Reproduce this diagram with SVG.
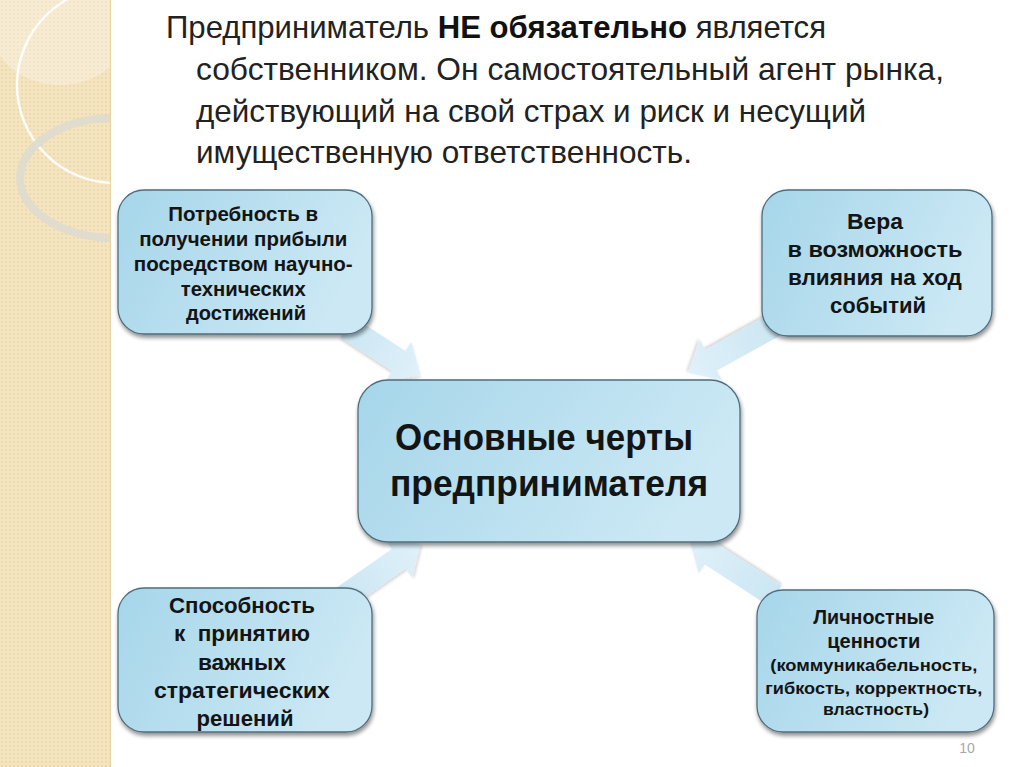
<svg xmlns="http://www.w3.org/2000/svg" width="1024" height="767" viewBox="0 0 1024 767">
<defs>
<pattern id="dots" width="4" height="4" patternUnits="userSpaceOnUse">
<rect width="4" height="4" fill="#f4e4c0"/>
<circle cx="2" cy="2" r="1" fill="#ead6a8"/>
</pattern>
<clipPath id="strip"><rect x="0" y="0" width="111" height="767"/></clipPath>
<linearGradient id="boxg" x1="0" y1="0" x2="1" y2="0.3">
<stop offset="0" stop-color="#a6d6ea"/>
<stop offset="1" stop-color="#cbe8f4"/>
</linearGradient>
<linearGradient id="arrg" x1="0" y1="0" x2="1" y2="0">
<stop offset="0" stop-color="#cbe6f3"/>
<stop offset="1" stop-color="#e0f1f9"/>
</linearGradient>
<filter id="sh" x="-10%" y="-10%" width="120%" height="125%">
<feGaussianBlur in="SourceAlpha" stdDeviation="2"/>
<feOffset dx="1" dy="3" result="b"/>
<feComponentTransfer><feFuncA type="linear" slope="0.45"/></feComponentTransfer>
<feMerge><feMergeNode/><feMergeNode in="SourceGraphic"/></feMerge>
</filter>
<filter id="ash" x="-20%" y="-20%" width="140%" height="140%">
<feGaussianBlur in="SourceAlpha" stdDeviation="1.5"/>
<feOffset dx="1" dy="2"/>
<feComponentTransfer><feFuncA type="linear" slope="0.18"/></feComponentTransfer>
<feMerge><feMergeNode/><feMergeNode in="SourceGraphic"/></feMerge>
</filter>
</defs>
<style>
.box{fill:url(#boxg);stroke:#4f6e7e;stroke-width:1.3;filter:url(#sh)}
.t{font-family:"Liberation Sans",Arial,sans-serif;font-weight:bold;fill:#141414;text-anchor:middle}
.title{font-family:"Liberation Sans Narrow","Liberation Sans",Arial,sans-serif;font-size:32px;fill:#222}
.arr{fill:url(#arrg);filter:url(#ash)}
</style>
<rect width="1024" height="767" fill="#ffffff"/>
<g id="sidebar" clip-path="url(#strip)">
<rect x="0" y="0" width="111" height="767" fill="url(#dots)"/>
<ellipse cx="60" cy="25" rx="70" ry="60" fill="#ffffff" opacity="0.3"/>
<circle cx="115" cy="85" r="98" fill="none" stroke="#ffffff" stroke-width="2.5" opacity="0.9"/>
<ellipse cx="115" cy="178" rx="95" ry="60" fill="none" stroke="#dedbcf" stroke-width="8" opacity="0.9"/>
<line x1="110.5" y1="0" x2="110.5" y2="767" stroke="#e6d3a8" stroke-width="1"/>
</g>
<g id="title">
<text class="title" x="166" y="38" textLength="660" lengthAdjust="spacingAndGlyphs">Предприниматель <tspan font-weight="bold" fill="#111">НЕ обязательно</tspan> является</text>
<text class="title" x="196" y="80" textLength="748" lengthAdjust="spacingAndGlyphs">собственником. Он самостоятельный агент рынка,</text>
<text class="title" x="196" y="122" textLength="670" lengthAdjust="spacingAndGlyphs">действующий на свой страх и риск и несущий</text>
<text class="title" x="196" y="163" textLength="496" lengthAdjust="spacingAndGlyphs">имущественную ответственность.</text>
</g>
<g id="connectors">
<polygon class="arr" transform="translate(362,337) rotate(33)" points="-18,-12 44,-12 44,-23 70,0 44,23 44,12 -18,12"/>
<polygon class="arr" transform="translate(760,333) rotate(151)" points="-18,-12 56,-12 56,-23 82,0 56,23 56,12 -18,12"/>
<polygon class="arr" transform="translate(357,588) rotate(-35)" points="-18,-12 51,-12 51,-23 77,0 51,23 51,12 -18,12"/>
<polygon class="arr" transform="translate(760,586) rotate(213)" points="-18,-12 58,-12 58,-23 84,0 58,23 58,12 -18,12"/>
</g>
<g id="node-tl">
<rect class="box" x="118" y="190" width="254" height="144" rx="26"/>
<text class="t" font-size="20" lengthAdjust="spacingAndGlyphs">
<tspan x="246" y="221" textLength="150" lengthAdjust="spacingAndGlyphs">Потребность в</tspan>
<tspan x="246" y="246" textLength="208" lengthAdjust="spacingAndGlyphs">получении прибыли</tspan>
<tspan x="246" y="271" textLength="219" lengthAdjust="spacingAndGlyphs">посредством научно-</tspan>
<tspan x="246" y="296" textLength="125" lengthAdjust="spacingAndGlyphs">технических</tspan>
<tspan x="246" y="320" textLength="120" lengthAdjust="spacingAndGlyphs">достижений</tspan>
</text>
</g>
<g id="node-tr">
<rect class="box" x="762" y="190" width="230" height="146" rx="26"/>
<text class="t" font-size="22">
<tspan x="878" y="229" textLength="56" lengthAdjust="spacingAndGlyphs">Вера</tspan>
<tspan x="878" y="257" textLength="175" lengthAdjust="spacingAndGlyphs">в возможность</tspan>
<tspan x="878" y="285" textLength="174" lengthAdjust="spacingAndGlyphs">влияния на ход</tspan>
<tspan x="878" y="313" textLength="96" lengthAdjust="spacingAndGlyphs">событий</tspan>
</text>
</g>
<g id="node-center">
<rect class="box" x="358" y="380" width="382" height="162" rx="30"/>
<text class="t" font-size="36">
<tspan x="549" y="450" textLength="298" lengthAdjust="spacingAndGlyphs">Основные черты</tspan>
<tspan x="549" y="496" textLength="318" lengthAdjust="spacingAndGlyphs">предпринимателя</tspan>
</text>
</g>
<g id="node-bl">
<rect class="box" x="118" y="588" width="254" height="144" rx="26"/>
<text class="t" font-size="22">
<tspan x="245" y="613" textLength="146" lengthAdjust="spacingAndGlyphs">Способность</tspan>
<tspan x="245" y="641" textLength="136" lengthAdjust="spacingAndGlyphs" xml:space="preserve">к  принятию</tspan>
<tspan x="245" y="670" textLength="88" lengthAdjust="spacingAndGlyphs">важных</tspan>
<tspan x="245" y="698" textLength="176" lengthAdjust="spacingAndGlyphs">стратегических</tspan>
<tspan x="245" y="726" textLength="97" lengthAdjust="spacingAndGlyphs">решений</tspan>
</text>
</g>
<g id="node-br">
<rect class="box" x="757" y="590" width="237" height="142" rx="26"/>
<text class="t">
<tspan x="876" y="624" font-size="20" textLength="121" lengthAdjust="spacingAndGlyphs">Личностные</tspan>
<tspan x="876" y="648" font-size="20" textLength="93" lengthAdjust="spacingAndGlyphs">ценности</tspan>
<tspan x="876" y="671" font-size="17" textLength="207" lengthAdjust="spacingAndGlyphs">(коммуникабельность,</tspan>
<tspan x="876" y="694" font-size="17" textLength="217" lengthAdjust="spacingAndGlyphs">гибкость, корректность,</tspan>
<tspan x="876" y="715" font-size="17" textLength="106" lengthAdjust="spacingAndGlyphs">властность)</tspan>
</text>
</g>
<text x="967" y="753" font-family="'Liberation Sans',Arial,sans-serif" font-size="14" fill="#a8a8a8" text-anchor="middle">10</text>
</svg>
